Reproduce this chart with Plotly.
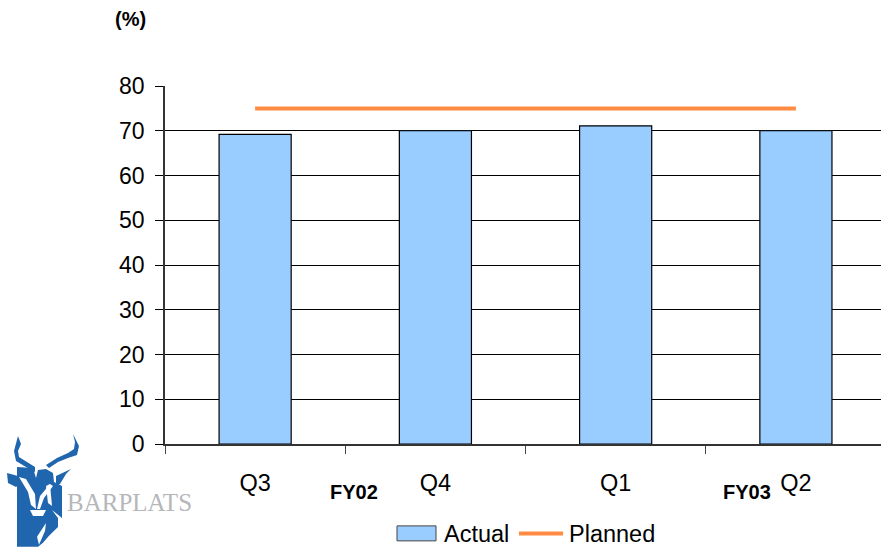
import plotly.graph_objects as go

# Capacity figures by quarter
quarters = ["Q3", "Q4", "Q1", "Q2"]
actual = [69.2, 70, 71.1, 70]
planned = [75, 75, 75, 75]
y_ticks = [0, 10, 20, 30, 40, 50, 60, 70, 80]

W, H = 881, 551
PLOT_L, PLOT_R, PLOT_T, PLOT_B = 165, 881, 85.5, 444
FONT = "Liberation Sans"


def px(x):
    # Paper coordinates run across the plot area, so page pixels are rescaled to it
    return (x - PLOT_L) / (PLOT_R - PLOT_L)


def py(y):
    return 1 - (y - PLOT_T) / (PLOT_B - PLOT_T)


def pixel_path(points):
    return "M" + "L".join(f"{px(x):.5f},{py(y):.5f}" for x, y in points) + "Z"


# Company mark: a blue shield with the antelope's horns above it
LOGO_BLUE = "#1F66AE"
logo_parts = [
    # shield, running down to the point of the muzzle
    [(17, 467), (33, 468), (36, 478), (38, 470), (46, 469), (53, 473), (54, 482), (62, 486),
     (62, 518), (52, 510), (58, 518), (58, 527), (49, 536), (43, 543), (38, 547), (17, 547)],
    # left horn
    [(18, 436), (21, 444), (18, 451), (19, 457), (27, 462), (35, 467), (35, 472), (26, 467),
     (16, 461), (14, 451)],
    # right horn
    [(73, 434), (79, 446), (77, 455), (68, 458), (58, 462), (49, 468), (46, 465), (57, 458),
     (68, 453), (74, 449), (75, 442)],
    # ears
    [(7, 473), (18, 476), (20, 484), (16, 487), (8, 483)],
    [(56, 476), (71, 469), (66, 474), (60, 484), (56, 486)],
]
logo_cuts = [
    # pale strokes of the face
    [(19, 477), (26, 479), (35, 494), (36, 509), (31, 505), (28, 492)],
    [(50, 484), (53, 486), (44, 498), (40, 509), (37, 509), (40, 496)],
    [(30, 510), (46, 510), (43, 516), (33, 516)],
    [(37, 537), (46, 523), (45, 531), (39, 545)],
    [(46, 486), (50, 484), (52, 506), (48, 503)],
]

shapes = [
    dict(type="path", xref="paper", yref="paper", path=pixel_path(p),
         fillcolor=LOGO_BLUE, line=dict(width=0), layer="below")
    for p in logo_parts
] + [
    dict(type="path", xref="paper", yref="paper", path=pixel_path(p),
         fillcolor="white", line=dict(width=0), layer="below")
    for p in logo_cuts
] + [
    # Legend keys
    dict(type="rect", xref="paper", yref="paper", x0=px(397), x1=px(436), y0=py(541), y1=py(526),
         fillcolor="#99CCFF", line=dict(color="#444444", width=1)),
    dict(type="line", xref="paper", yref="paper", x0=px(519), x1=px(563), y0=py(533.5), y1=py(533.5),
         line=dict(color="#FF8C42", width=4)),
]


def label(text, x, y, size, bold=False, color="black", family=FONT):
    return dict(text=f"<b>{text}</b>" if bold else text, xref="paper", yref="paper",
                x=px(x), y=py(y), showarrow=False, xanchor="center", yanchor="middle",
                font=dict(family=family, size=size, color=color))


annotations = [
    label("(%)", 130, 18, 20, bold=True),
    label("FY02", 354, 492, 20, bold=True),
    label("FY03", 747, 492, 20, bold=True),
    label("Actual", 476, 534, 23.5),
    label("Planned", 612, 534, 23.5),
    label("BARPLATS", 129, 503, 25, color="#B5B7BA", family="Liberation Serif"),
]

fig = go.Figure()
fig.add_bar(x=quarters, y=actual, name="Actual", width=0.4,
            marker=dict(color="#99CCFF", line=dict(color="black", width=1.2)))
fig.add_scatter(x=quarters, y=planned, name="Planned", mode="lines",
                line=dict(color="#FF8C42", width=4))

fig.update_layout(
    width=W, height=H, autosize=False, showlegend=False,
    margin=dict(l=PLOT_L, r=W - PLOT_R, t=PLOT_T, b=H - PLOT_B),
    paper_bgcolor="white", plot_bgcolor="white",
    font=dict(family=FONT, size=23, color="black"),
    shapes=shapes, annotations=annotations,
)
fig.update_xaxes(
    type="category", categoryorder="array", categoryarray=quarters,
    range=[-0.5, 3.472], tickson="boundaries", ticks="outside", ticklen=8, tickwidth=1,
    tickcolor="#444444", showline=True, linecolor="#333333", linewidth=1.5, showgrid=False,
    tickfont=dict(size=23.5), ticklabelstandoff=17,
)
fig.update_yaxes(
    range=[0, 80], tickvals=y_ticks, ticks="outside", ticklen=8, tickwidth=1, tickcolor="black",
    showline=True, linecolor="#333333", linewidth=1.5,
    showgrid=True, gridcolor="black", gridwidth=1, zeroline=False,
    tickfont=dict(size=23), ticklabelstandoff=6,
)

fig.write_html("out.html")
